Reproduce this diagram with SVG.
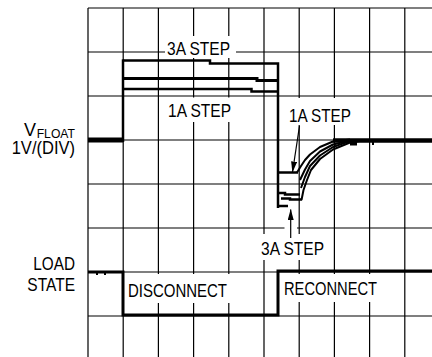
<svg xmlns="http://www.w3.org/2000/svg" width="432" height="357" viewBox="0 0 432 357">
<defs>
<style>
.grid{fill:none;stroke:#000;stroke-width:1.2}
.bg{fill:#fff}
.tr{fill:none;stroke:#000;stroke-width:2.5;stroke-linejoin:miter;stroke-linecap:butt}
.rc{fill:none;stroke:#000;stroke-width:2;stroke-linejoin:round}
.lbl{font-family:"Liberation Sans",Arial,sans-serif;font-size:18.5px;fill:#000}
.sub{font-size:13px}
.arr{fill:none;stroke:#000;stroke-width:1.2}
</style>
<marker id="ah" markerUnits="userSpaceOnUse" markerWidth="11" markerHeight="6" refX="10.5" refY="3" orient="auto">
<path d="M0 0 L11 3 L0 6 Z" fill="#000"/>
</marker>
</defs>
<rect width="432" height="357" fill="#fff"/>
<g id="grid">
<path class="grid" d="M88 8V357M123.2 8V357M158.4 8V357M193.6 8V357M228.8 8V357M264 8V357M299.2 8V357M334.4 8V357M369.6 8V357M404.8 8V357M88 8H432M88 52H432M88 96H432M88 140H432M88 184H432M88 228H432M88 272H432M88 316H432"/>
</g>
<g id="label-backgrounds">
<rect class="bg" x="165" y="36" width="71" height="22"/>
<rect class="bg" x="164" y="97.5" width="71" height="24.5"/>
<rect class="bg" x="286" y="98" width="68" height="27"/>
<rect class="bg" x="257" y="234" width="71" height="26"/>
<rect class="bg" x="284.5" y="211" width="12.5" height="23"/>
<rect class="bg" x="124.5" y="274" width="106.5" height="29"/>
<rect class="bg" x="281" y="274" width="99" height="28"/>
</g>
<g id="vfloat-trace">
<path class="tr" d="M88 140H123" style="stroke-width:5"/>
<path class="tr" d="M123 142V59.3"/>
<path class="tr" d="M123 60.5H210V63.5H278V208"/>
<path class="tr" d="M123 78.5H257V80.5H278" style="stroke-width:3"/>
<path class="tr" d="M123 89H251.5V91.5H278"/>
<path class="tr" d="M278 172.5H298"/>
<path class="tr" d="M278 193H285V194.5H300"/>
<path class="tr" d="M281 198.5H290V199.5H302"/>
<path class="tr" d="M278 206H288"/>
<polyline class="rc" points="297,172.5 301,166 305,160 310,154.5 320,147 333,141.5 350,139.5"/>
<polyline class="rc" points="300,180 305,169.5 310,161 320,151.5 333,144.5 350,140.5"/>
<polyline class="rc" points="301,188 305,177 310,166 320,155.5 333,147 350,141"/>
<polyline class="rc" points="301.5,200 303.5,190 307,180 311,170 320,159 333,149.5 350,142.5 360,141"/>
<path class="tr" d="M333 140.5H432" style="stroke-width:4.5"/>
<rect x="350" y="141" width="7" height="4.5" fill="#000"/>
<rect x="372" y="142" width="2" height="3" fill="#000"/>
</g>
<g id="load-trace">
<path class="tr" d="M88 272H123V315H278V271H432" style="stroke-width:3"/>
<rect x="96" y="272" width="2" height="3" fill="#000"/>
<rect x="104" y="272" width="2" height="3" fill="#000"/>
</g>
<g id="connectors">
<line class="arr" x1="299.5" y1="126" x2="292.5" y2="172" marker-end="url(#ah)"/>
<line class="arr" x1="290.7" y1="238" x2="290.7" y2="209.5" marker-end="url(#ah)"/>
</g>
<g id="labels">
<text class="lbl" x="167" y="55" textLength="63" lengthAdjust="spacingAndGlyphs">3A STEP</text>
<text class="lbl" x="168" y="116.5" textLength="63" lengthAdjust="spacingAndGlyphs">1A STEP</text>
<text class="lbl" x="289" y="121.5" textLength="62" lengthAdjust="spacingAndGlyphs">1A STEP</text>
<text class="lbl" x="261" y="255" textLength="63" lengthAdjust="spacingAndGlyphs">3A STEP</text>
<text class="lbl" x="128" y="296.5" textLength="99" lengthAdjust="spacingAndGlyphs">DISCONNECT</text>
<text class="lbl" x="284" y="295" textLength="93" lengthAdjust="spacingAndGlyphs">RECONNECT</text>
<text class="lbl" x="33.3" y="269.5" textLength="41.7" lengthAdjust="spacingAndGlyphs">LOAD</text>
<text class="lbl" x="27.3" y="291" textLength="47.7" lengthAdjust="spacingAndGlyphs">STATE</text>
<text class="lbl" x="11.7" y="154" textLength="63.3" lengthAdjust="spacingAndGlyphs">1V/(DIV)</text>
<text class="lbl" x="24" y="135.5" textLength="12" lengthAdjust="spacingAndGlyphs">V</text>
<text class="lbl sub" x="36.7" y="138" textLength="38.3" lengthAdjust="spacingAndGlyphs">FLOAT</text>
</g>
</svg>
